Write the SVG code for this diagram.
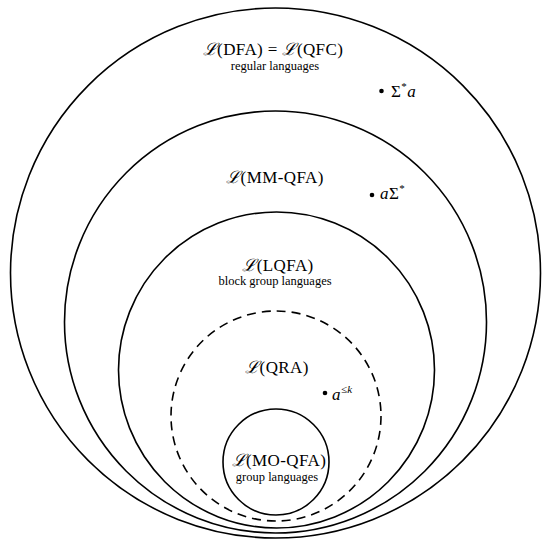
<svg xmlns="http://www.w3.org/2000/svg" width="550" height="547" viewBox="0 0 550 547">
<style>
.c{fill:none;stroke:#000;stroke-width:1.6}
.d{stroke-dasharray:9 6}
.t{font-size:17px;letter-spacing:0.4px}
.s{font-size:12.5px}
</style>
<rect width="550" height="547" fill="#fff"/>
<g font-family="'Liberation Serif', 'DejaVu Serif', serif" fill="#000">
<g id="dfa">
<circle class="c" cx="275.5" cy="273" r="265"/>
<text class="t" x="273" y="55" text-anchor="middle"><tspan font-family="'DejaVu Serif', serif" font-style="italic">ℒ</tspan>(DFA) = <tspan font-family="'DejaVu Serif', serif" font-style="italic">ℒ</tspan>(QFC)</text>
<text class="s" x="275" y="70" text-anchor="middle">regular languages</text>
</g>
<g id="mmqfa">
<circle class="c" cx="275.5" cy="322" r="211"/>
<text class="t" x="275" y="183" text-anchor="middle"><tspan font-family="'DejaVu Serif', serif" font-style="italic">ℒ</tspan>(MM-QFA)</text>
</g>
<g id="lqfa">
<circle class="c" cx="276.5" cy="370" r="158"/>
<text class="t" x="278" y="271" text-anchor="middle"><tspan font-family="'DejaVu Serif', serif" font-style="italic">ℒ</tspan>(LQFA)</text>
<text class="s" x="275" y="285" text-anchor="middle">block group languages</text>
</g>
<g id="qra">
<circle class="c d" cx="276" cy="416" r="105"/>
<text class="t" x="277" y="373" text-anchor="middle"><tspan font-family="'DejaVu Serif', serif" font-style="italic">ℒ</tspan>(QRA)</text>
</g>
<g id="moqfa">
<circle class="c" cx="276" cy="462" r="53"/>
<text class="t" x="279" y="466" text-anchor="middle"><tspan font-family="'DejaVu Serif', serif" font-style="italic">ℒ</tspan>(MO-QFA)</text>
<text class="s" x="277" y="481" text-anchor="middle">group languages</text>
</g>
<g id="examples">
<circle cx="381.5" cy="91" r="2.3"/>
<text class="t" x="391" y="97">Σ<tspan font-size="11" dy="-7">*</tspan><tspan font-style="italic" dy="7">a</tspan></text>
<circle cx="372" cy="195" r="2.3"/>
<text class="t" x="380" y="199"><tspan font-style="italic">a</tspan>Σ<tspan font-size="11" dy="-7">*</tspan></text>
<circle cx="325" cy="393" r="2.3"/>
<text class="t" x="332" y="400"><tspan font-style="italic">a</tspan><tspan font-size="11" dy="-7">≤</tspan><tspan font-size="11" font-style="italic">k</tspan></text>
</g>
</g>
</svg>
